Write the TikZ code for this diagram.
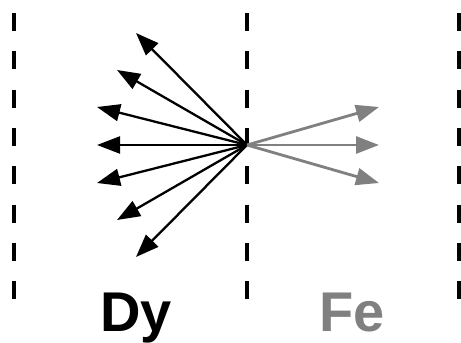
\documentclass[tikz,border=0pt]{standalone}
\usepackage{fontspec}
\setmainfont{Liberation Sans}
\usetikzlibrary{arrows.meta}
\definecolor{fegray}{HTML}{808080}
\begin{document}
\begin{tikzpicture}[x=1pt,y=-1pt,
  divider/.style={line width=4pt, dash pattern=on 18pt off 20.3pt},
  dyarrow/.style={line width=2.3pt, -{Triangle[length=23pt,width=17pt]}},
  fearrow/.style={line width=2.8pt, fegray, -{Triangle[length=23pt,width=17pt]}},
  label/.style={font=\bfseries\fontsize{56}{56}\selectfont, anchor=base, inner sep=0pt}]
\useasboundingbox (0,0) rectangle (461,343);
% dividers
\coordinate (l1t) at (14,13); \coordinate (l1b) at (14,300);
\coordinate (l2t) at (247,13); \coordinate (l2b) at (247,300);
\coordinate (l3t) at (459,13); \coordinate (l3b) at (459,300);
\draw[divider] (l1t) -- (l1b);
\draw[divider] (l2t) -- (l2b);
\draw[divider] (l3t) -- (l3b);
% center
\coordinate (c) at (247,145);
% Dy arrows
\coordinate (d1) at (136,33);
\coordinate (d2) at (117,70);
\coordinate (d3) at (97,107);
\coordinate (d4) at (97,145);
\coordinate (d5) at (97,183);
\coordinate (d6) at (117,220);
\coordinate (d7) at (136,257);
\foreach \t in {d1,d2,d3,d4,d5,d6,d7} \draw[dyarrow] (c) -- (\t);
% Fe arrows
\coordinate (f1) at (379,107);
\coordinate (f2) at (379,145);
\coordinate (f3) at (379,183);
\foreach \t in {f1,f2,f3} \draw[fearrow] (c) -- (\t);
% labels
\node[label] (dy) at (136,331) {Dy};
\node[label, text=fegray] (fe) at (352,331) {Fe};
\end{tikzpicture}
\end{document}
